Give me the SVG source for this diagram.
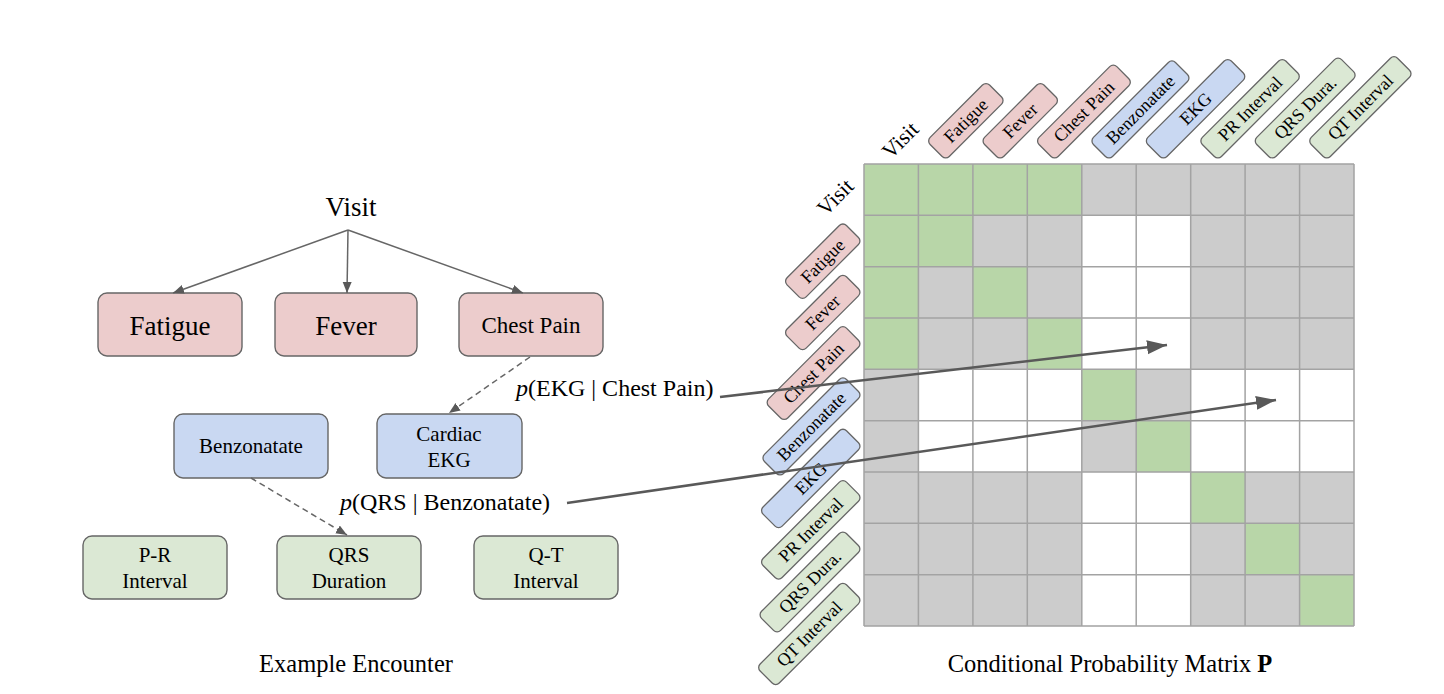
<svg xmlns="http://www.w3.org/2000/svg" width="1444" height="694" viewBox="0 0 1444 694">
<defs>
<style>
text{font-family:"Liberation Serif","Times New Roman",serif;fill:#000}
.node{stroke:#666;stroke-width:1.4}
.red{fill:#eccccc}
.blue{fill:#c9d8f2}
.grn{fill:#dbe8d4}
.t27{font-size:27px;text-anchor:middle}
.t23{font-size:23px;text-anchor:middle}
.t21{font-size:21px;text-anchor:middle}
.lbl{font-size:18px;text-anchor:middle;dominant-baseline:central}
.lbox{stroke:#666;stroke-width:1.3}
.edge{stroke:#666;stroke-width:1.5;fill:none}
.dash{stroke-dasharray:6 4}
.big{stroke:#595959;stroke-width:2.5;fill:none}
.cg{fill:#b8d6a8}
.cw{fill:#fff}
</style>
<marker id="ah" markerUnits="userSpaceOnUse" markerWidth="12" markerHeight="10" refX="11" refY="4.5" orient="auto"><path d="M0,0 L11,4.5 L0,9 z" fill="#595959"/></marker>
<marker id="ahb" markerUnits="userSpaceOnUse" markerWidth="22" markerHeight="16" refX="20" refY="7" orient="auto"><path d="M0,0 L20,7 L0,14 z" fill="#595959"/></marker>
</defs>
<rect width="1444" height="694" fill="#fff"/>

<!-- Left tree -->
<g id="visit"><text class="t27" x="351" y="216">Visit</text></g>
<g id="fatigue"><rect class="node red" x="98" y="293" width="144" height="63" rx="9"/><text class="t27" x="170" y="335">Fatigue</text></g>
<g id="fever"><rect class="node red" x="275" y="293" width="142" height="63" rx="9"/><text class="t27" x="346" y="335">Fever</text></g>
<g id="chestpain"><rect class="node red" x="459" y="293" width="144" height="63" rx="9"/><text class="t23" x="531" y="333">Chest Pain</text></g>
<g id="benzonatate"><rect class="node blue" x="174" y="414" width="154" height="64" rx="9"/><text class="t21" x="251" y="453">Benzonatate</text></g>
<g id="cardiacekg"><rect class="node blue" x="377" y="414" width="145" height="64" rx="9"/><text class="t21" x="449" y="441">Cardiac</text><text class="t21" x="449" y="467">EKG</text></g>
<g id="printerval"><rect class="node grn" x="83" y="536" width="144" height="63" rx="9"/><text class="t21" x="155" y="562">P-R</text><text class="t21" x="155" y="588">Interval</text></g>
<g id="qrsduration"><rect class="node grn" x="277" y="536" width="144" height="63" rx="9"/><text class="t21" x="349" y="562">QRS</text><text class="t21" x="349" y="588">Duration</text></g>
<g id="qtinterval"><rect class="node grn" x="474" y="536" width="144" height="63" rx="9"/><text class="t21" x="546" y="562">Q-T</text><text class="t21" x="546" y="588">Interval</text></g>

<g id="labels">
<text x="516" y="396" font-size="24"><tspan font-style="italic">p</tspan>(EKG | Chest Pain)</text>
<text x="340" y="510" font-size="24"><tspan font-style="italic">p</tspan>(QRS | Benzonatate)</text>
<text x="356" y="672" font-size="24.5" text-anchor="middle">Example Encounter</text>
<text x="1110" y="672" font-size="24.5" text-anchor="middle">Conditional Probability Matrix <tspan font-weight="bold">P</tspan></text>
</g>

<!-- Matrix -->
<g id="matrix">
<rect x="864" y="164" width="490" height="462" fill="#cccccc"/>
<rect class="cw" x="1081.8" y="215.3" width="108.9" height="154"/>
<rect class="cw" x="918.4" y="369.3" width="163.4" height="102.7"/>
<rect class="cw" x="1190.7" y="369.3" width="163.3" height="102.7"/>
<rect class="cw" x="1081.8" y="472" width="108.9" height="154"/>
<rect class="cg" x="864" y="164" width="217.8" height="51.3"/>
<rect class="cg" x="864" y="215.3" width="54.4" height="154"/>
<rect class="cg" x="918.4" y="215.3" width="54.5" height="51.4"/>
<rect class="cg" x="972.9" y="266.7" width="54.4" height="51.3"/>
<rect class="cg" x="1027.3" y="318" width="54.5" height="51.3"/>
<rect class="cg" x="1081.8" y="369.3" width="54.4" height="51.4"/>
<rect class="cg" x="1136.2" y="420.7" width="54.5" height="51.3"/>
<rect class="cg" x="1190.7" y="472" width="54.4" height="51.3"/>
<rect class="cg" x="1245.1" y="523.3" width="54.5" height="51.4"/>
<rect class="cg" x="1299.6" y="574.7" width="54.4" height="51.3"/>
<path d="M864,164V626M918.4,164V626M972.9,164V626M1027.3,164V626M1081.8,164V626M1136.2,164V626M1190.7,164V626M1245.1,164V626M1299.6,164V626M1354,164V626M864,164H1354M864,215.3H1354M864,266.7H1354M864,318H1354M864,369.3H1354M864,420.7H1354M864,472H1354M864,523.3H1354M864,574.7H1354M864,626H1354" stroke="#a3a3a3" stroke-width="1.5" fill="none"/>
</g>

<!-- Top axis labels -->
<g id="top-visit"><text font-size="22" text-anchor="middle" dominant-baseline="central" transform="translate(900,140) rotate(-45)">Visit</text></g>
<g id="top-fatigue" transform="translate(945.7,160) rotate(-45)"><rect class="lbox red" x="0" y="-27" width="84" height="27" rx="5"/><text class="lbl" x="42" y="-13.5">Fatigue</text></g>
<g id="top-fever" transform="translate(1000.1,160) rotate(-45)"><rect class="lbox red" x="0" y="-27" width="84" height="27" rx="5"/><text class="lbl" x="42" y="-13.5">Fever</text></g>
<g id="top-chestpain" transform="translate(1054.6,160) rotate(-45)"><rect class="lbox red" x="0" y="-27" width="110" height="27" rx="5"/><text class="lbl" x="55" y="-13.5">Chest Pain</text></g>
<g id="top-benzonatate" transform="translate(1109,160) rotate(-45)"><rect class="lbox blue" x="0" y="-27" width="116" height="27" rx="5"/><text class="lbl" x="58" y="-13.5">Benzonatate</text></g>
<g id="top-ekg" transform="translate(1163.4,160) rotate(-45)"><rect class="lbox blue" x="0" y="-27" width="118" height="27" rx="5"/><text class="lbl" x="59" y="-13.5">EKG</text></g>
<g id="top-pr" transform="translate(1217.9,160) rotate(-45)"><rect class="lbox grn" x="0" y="-27" width="118" height="27" rx="5"/><text class="lbl" x="59" y="-13.5">PR Interval</text></g>
<g id="top-qrs" transform="translate(1272.3,160) rotate(-45)"><rect class="lbox grn" x="0" y="-27" width="120" height="27" rx="5"/><text class="lbl" x="60" y="-13.5">QRS Dura.</text></g>
<g id="top-qt" transform="translate(1326.8,160) rotate(-45)"><rect class="lbox grn" x="0" y="-27" width="122" height="27" rx="5"/><text class="lbl" x="61" y="-13.5">QT Interval</text></g>

<!-- Left axis labels -->
<g id="left-visit"><text font-size="22" text-anchor="middle" dominant-baseline="central" transform="translate(835,197) rotate(-45)">Visit</text></g>
<g id="left-fatigue" transform="translate(802.6,300.4) rotate(-45)"><rect class="lbox red" x="0" y="-27" width="84" height="27" rx="5"/><text class="lbl" x="42" y="-13.5">Fatigue</text></g>
<g id="left-fever" transform="translate(802.6,351.7) rotate(-45)"><rect class="lbox red" x="0" y="-27" width="84" height="27" rx="5"/><text class="lbl" x="42" y="-13.5">Fever</text></g>
<g id="left-chestpain" transform="translate(784.2,421.5) rotate(-45)"><rect class="lbox red" x="0" y="-27" width="110" height="27" rx="5"/><text class="lbl" x="55" y="-13.5">Chest Pain</text></g>
<g id="left-benzonatate" transform="translate(780,477) rotate(-45)"><rect class="lbox blue" x="0" y="-27" width="116" height="27" rx="5"/><text class="lbl" x="58" y="-13.5">Benzonatate</text></g>
<g id="left-ekg" transform="translate(778.6,529.7) rotate(-45)"><rect class="lbox blue" x="0" y="-27" width="118" height="27" rx="5"/><text class="lbl" x="59" y="-13.5">EKG</text></g>
<g id="left-pr" transform="translate(778.6,581.1) rotate(-45)"><rect class="lbox grn" x="0" y="-27" width="118" height="27" rx="5"/><text class="lbl" x="59" y="-13.5">PR Interval</text></g>
<g id="left-qrs" transform="translate(777.1,633.9) rotate(-45)"><rect class="lbox grn" x="0" y="-27" width="120" height="27" rx="5"/><text class="lbl" x="60" y="-13.5">QRS Dura.</text></g>
<g id="left-qt" transform="translate(775.7,686.6) rotate(-45)"><rect class="lbox grn" x="0" y="-27" width="122" height="27" rx="5"/><text class="lbl" x="61" y="-13.5">QT Interval</text></g>

<!-- Connectors -->
<g id="connectors">
<line class="edge" x1="348" y1="230" x2="173" y2="293" marker-end="url(#ah)"/>
<line class="edge" x1="348" y1="230" x2="347" y2="293" marker-end="url(#ah)"/>
<line class="edge" x1="348" y1="230" x2="523" y2="293" marker-end="url(#ah)"/>
<line class="edge dash" x1="530" y1="357" x2="449" y2="413" marker-end="url(#ah)"/>
<line class="edge dash" x1="251" y1="478" x2="347" y2="535" marker-end="url(#ah)"/>
<line class="big" x1="720" y1="397" x2="1167" y2="345" marker-end="url(#ahb)"/>
<line class="big" x1="567" y1="503" x2="1276" y2="400" marker-end="url(#ahb)"/>
</g>
</svg>
